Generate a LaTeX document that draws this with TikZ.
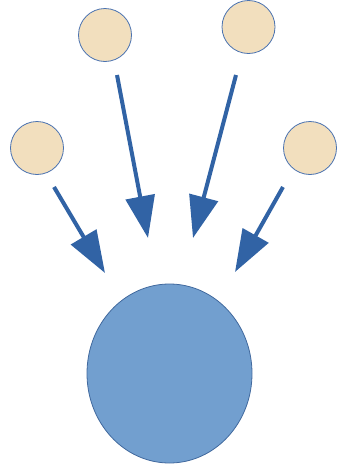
\documentclass[tikz,border=0pt]{standalone}
\usepackage{tikz}
\usetikzlibrary{arrows.meta, shapes.geometric}
\definecolor{sandFill}{RGB}{242,223,190}
\definecolor{ringBlue}{RGB}{74,114,176}
\definecolor{poolBlue}{RGB}{114,159,207}
\definecolor{poolEdge}{RGB}{65,105,158}
\definecolor{arrowBlue}{RGB}{49,99,165}
\begin{document}
\begin{tikzpicture}[
    x=1pt, y=-1pt,
    source/.style={circle, draw=ringBlue, fill=sandFill, line width=0.8pt,
    inner sep=0pt, minimum size=53pt},
    pool/.style={ellipse, draw=poolEdge, fill=poolBlue, line width=0.8pt,
    inner sep=0pt, minimum width=165pt, minimum height=179pt},
    flow/.style={-{Triangle[length=42pt, width=29pt]}, line width=4pt, color=arrowBlue}
]
\useasboundingbox (0,0) rectangle (338,466);
% sources
\node[source] (s1) at (37,148) {};
\node[source] (s2) at (105,35) {};
\node[source] (s3) at (248.5,27) {};
\node[source] (s4) at (310,148) {};
% pool
\node[pool] (pl) at (169.5,373.5) {};
% arrow ends
\coordinate (f1a) at (54,187);
\coordinate (f1b) at (105,273);
\coordinate (f2a) at (117,75);
\coordinate (f2b) at (148,238);
\coordinate (f3a) at (236,75);
\coordinate (f3b) at (193,238);
\coordinate (f4a) at (283,187);
\coordinate (f4b) at (235,272);

\draw[flow] (f1a) -- (f1b);
\draw[flow] (f2a) -- (f2b);
\draw[flow] (f3a) -- (f3b);
\draw[flow] (f4a) -- (f4b);
\end{tikzpicture}
\end{document}
